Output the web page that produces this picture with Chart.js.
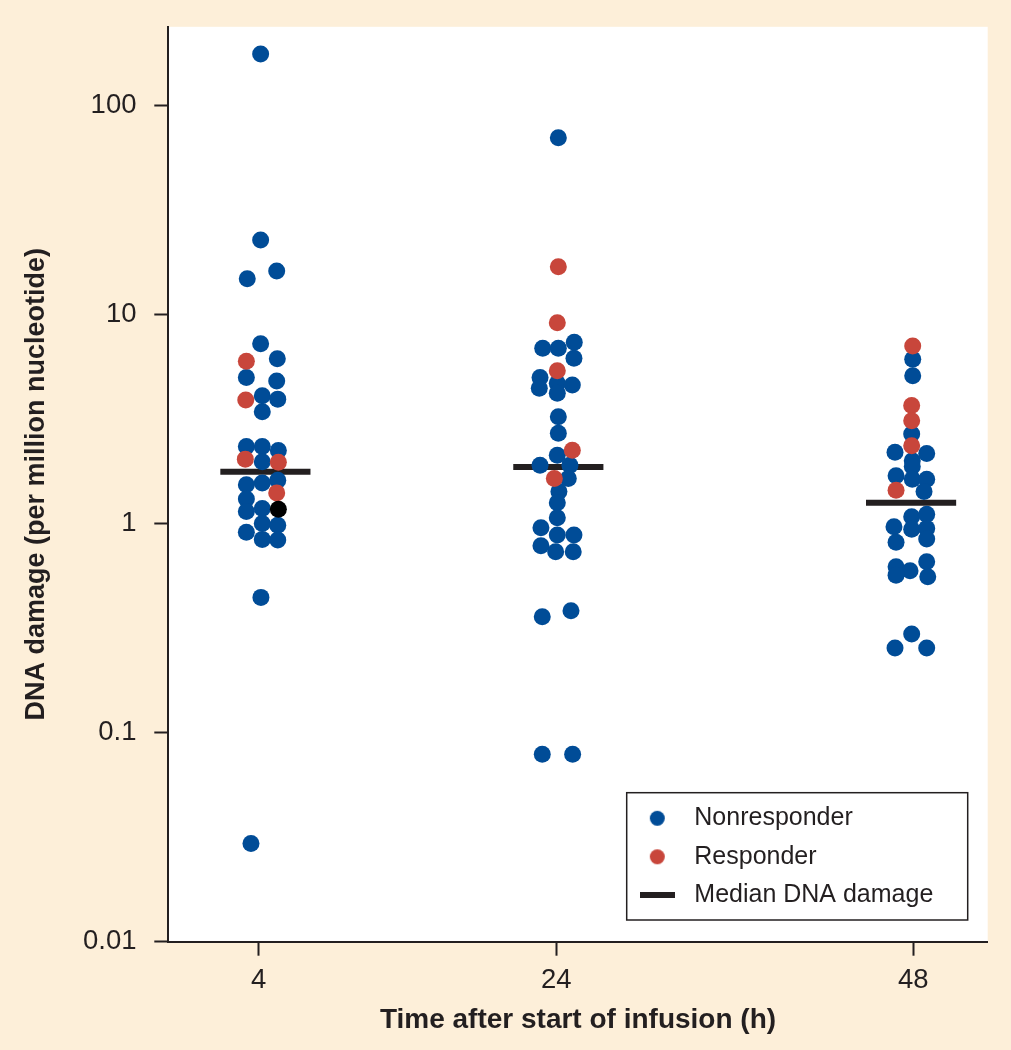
<!DOCTYPE html>
<html><head><meta charset="utf-8">
<script src="https://cdn.jsdelivr.net/npm/chart.js@4.4.1/dist/chart.umd.min.js"></script>
<style>html,body{margin:0;padding:0;background:#fdefd9;} #wrap{width:1011px;height:1050px;}</style>
</head><body><div id="wrap"><canvas id="c" width="1011" height="1050"></canvas></div>
<script>
// ---- data ----
const timepoints = [4, 24, 48];
const timeLabels = ['4', '24', '48'];
const yTickValues = [0.01, 0.1, 1, 10, 100];
const yTickLabels = ['0.01', '0.1', '1', '10', '100'];
const seriesNames = ['Nonresponder', 'Responder', 'Median DNA damage'];

// [time position (jittered), DNA damage]
const nonresponder = [
  [4.13,175.8],[4.13,22.66],[5.21,16.11],[3.23,14.80],[4.13,7.23],[5.25,6.13],[3.17,4.99],[5.21,4.80],
  [4.24,4.08],[5.28,3.93],[4.24,3.42],[3.17,2.33],[4.24,2.33],[5.32,2.23],[4.24,1.97],[5.28,1.61],
  [3.17,1.53],[4.24,1.56],[3.17,1.31],[3.17,1.14],[4.24,1.18],[4.24,1.00],[5.28,0.98],[3.17,0.907],
  [4.24,0.839],[5.28,0.833],[4.15,0.443],[3.48,0.0295],
  [24.14,69.9],[23.09,6.88],[24.14,6.88],[25.21,7.35],[25.19,6.16],[22.91,4.99],[22.86,4.43],[24.07,4.68],
  [25.08,4.59],[24.07,4.19],[24.14,3.24],[24.14,2.70],[24.07,2.12],[22.91,1.90],[24.92,1.90],[24.81,1.64],
  [24.18,1.42],[24.07,1.256],[24.07,1.065],[22.97,0.954],[24.07,0.880],[25.19,0.880],[22.97,0.782],
  [23.96,0.732],[25.14,0.732],[23.06,0.358],[24.99,0.382],[23.06,0.0787],[25.10,0.0787],
  [47.96,6.09],[47.96,5.09],[47.89,2.68],[46.77,2.19],[48.90,2.16],[47.93,1.995],[47.93,1.87],[46.84,1.69],
  [47.93,1.625],[48.90,1.625],[48.72,1.42],[47.89,1.077],[48.90,1.105],[46.70,0.964],[47.89,0.937],
  [48.90,0.947],[46.84,0.812],[48.90,0.842],[46.84,0.621],[47.78,0.594],[48.90,0.656],[46.84,0.566],
  [48.97,0.556],[47.89,0.296],[46.77,0.254],[48.90,0.254]
];
const responder = [
  [3.17,5.96],[3.13,3.89],[3.10,2.03],[5.32,1.96],[5.21,1.40],
  [24.14,16.89],[24.07,9.12],[24.07,5.37],[25.08,2.24],[23.87,1.64],
  [47.96,7.05],[47.89,3.66],[47.89,3.10],[47.89,2.35],[46.84,1.44]
];
const otherPatient = [[5.32,1.17]];
const medianValues = [1.767, 1.861, 1.256];
const medianCenters = [4.45, 24.14, 47.85];
const medianHalfWidth = 3.03;

// ---- styles ----
const CREAM = '#fdefd9', BLUE = '#004c97', RED = '#c8463b', INK = '#231f20';
const FONT = '"Liberation Sans", Arial, Helvetica, sans-serif';

const toXY = arr => arr.map(([x, y]) => ({x, y}));
const medianData = [];
medianValues.forEach((m, i) => {
  medianData.push({x: medianCenters[i] - medianHalfWidth, y: m});
  medianData.push({x: medianCenters[i] + medianHalfWidth, y: m});
  medianData.push({x: medianCenters[i] + medianHalfWidth + 0.5, y: null});
});

function dotCanvas(color, r) {
  const c = document.createElement('canvas');
  c.width = c.height = Math.ceil(2 * r + 2);
  const g = c.getContext('2d');
  g.fillStyle = color; g.beginPath(); g.arc(c.width / 2, c.height / 2, r, 0, Math.PI * 2); g.fill();
  return c;
}
function barCanvas(color, w, h) {
  const c = document.createElement('canvas');
  c.width = w; c.height = h;
  const g = c.getContext('2d');
  g.fillStyle = color; g.fillRect(0, 0, w, h);
  return c;
}
const legendMarkers = [dotCanvas(BLUE, 7.5), dotCanvas(RED, 7.5), barCanvas(INK, 35, 6)];
const legendColors = [BLUE, RED, INK];

function legendBox(chart) {
  const ca = chart.chartArea;
  const w = 341, h = 127.3;
  return {x: ca.right - 20 - w, y: ca.bottom - 21.7 - h, w, h};
}

const framePlugin = {
  id: 'frame',
  afterLayout(chart) {
    const lg = chart.legend, b = legendBox(chart);
    lg.left = b.x - 7.4; lg.top = b.y - 0.4;
    lg.width = 330; lg.height = 200;
    lg.right = lg.left + lg.width; lg.bottom = lg.top + lg.height;
  },
  beforeDraw(chart) {
    const {ctx, chartArea: ca} = chart;
    ctx.save();
    ctx.fillStyle = CREAM; ctx.fillRect(0, 0, chart.width, chart.height);
    ctx.fillStyle = '#ffffff'; ctx.fillRect(ca.left, ca.top, ca.right - ca.left, ca.bottom - ca.top);
    const b = legendBox(chart);
    ctx.strokeStyle = INK; ctx.lineWidth = 1.5;
    ctx.strokeRect(b.x, b.y, b.w, b.h);
    ctx.restore();
  }
};

function noEdgePadding(s) {
  s.paddingTop = 0; s.paddingBottom = 0; s.paddingLeft = 0; s.paddingRight = 0;
}

new Chart(document.getElementById('c'), {
  type: 'scatter',
  data: {
    datasets: [
      {label: 'Other', data: toXY(otherPatient), backgroundColor: '#000000', borderColor: '#000000', order: 0},
      {label: seriesNames[1], data: toXY(responder), backgroundColor: RED, borderColor: RED, order: 1},
      {label: seriesNames[0], data: toXY(nonresponder), backgroundColor: BLUE, borderColor: BLUE, order: 2},
      {type: 'line', label: seriesNames[2], data: medianData, borderColor: INK, backgroundColor: INK,
       borderWidth: 6, pointRadius: 0, spanGaps: false, borderCapStyle: 'butt', order: 3}
    ]
  },
  options: {
    responsive: false, animation: false, events: [], devicePixelRatio: 1,
    elements: {point: {radius: 8.5, borderWidth: 0, hoverRadius: 8.5}},
    layout: {padding: {top: 26.8, right: 23.3, left: 0, bottom: 0}},
    scales: {
      x: {
        type: 'linear', min: -2.077, max: 53.0,
        afterBuildTicks: s => { s.ticks = timepoints.map(v => ({value: v})); },
        afterFit: s => { s.height = 108.3; noEdgePadding(s); },
        ticks: {autoSkip: false, maxRotation: 0, padding: 8.2, color: INK,
                font: {family: FONT, size: 27.5},
                callback: v => timeLabels[timepoints.indexOf(v)]},
        grid: {drawOnChartArea: false, drawTicks: true, tickLength: 14, tickWidth: 2, tickColor: INK, color: INK},
        border: {display: true, color: INK, width: 2},
        title: {display: true, text: 'Time after start of infusion (h)', color: INK,
                font: {family: FONT, size: 28, weight: 'bold'}, padding: {top: 0, bottom: 13}}
      },
      y: {
        type: 'logarithmic', min: 0.01, max: 237,
        afterBuildTicks: s => { s.ticks = yTickValues.map(v => ({value: v})); },
        afterFit: s => { s.width = 168.3; noEdgePadding(s); },
        ticks: {autoSkip: false, padding: 17.8, color: INK, font: {family: FONT, size: 27.5},
                callback: v => { const i = yTickValues.findIndex(t => Math.abs(t - v) / t < 1e-6); return i >= 0 ? yTickLabels[i] : ''; }},
        grid: {drawOnChartArea: false, drawTicks: true, tickLength: 14, tickWidth: 2, tickColor: INK, color: INK},
        border: {display: true, color: INK, width: 2},
        title: {display: true, text: 'DNA damage (per million nucleotide)', color: INK,
                font: {family: FONT, size: 27, weight: 'bold'}, padding: {top: 20.3, bottom: 0}}
      }
    },
    plugins: {
      tooltip: {enabled: false},
      legend: {
        display: true, position: 'chartArea', align: 'start',
        labels: {
          usePointStyle: true, pointStyleWidth: 49, padding: 13.5, color: INK,
          font: {family: FONT, size: 25},
          generateLabels: () => seriesNames.map((name, i) => ({
            text: name, pointStyle: legendMarkers[i], fillStyle: legendColors[i], strokeStyle: legendColors[i],
            lineWidth: 0, hidden: false, fontColor: INK, datasetIndex: 2 - i
          }))
        }
      }
    }
  },
  plugins: [framePlugin]
});
</script>
</body></html>
